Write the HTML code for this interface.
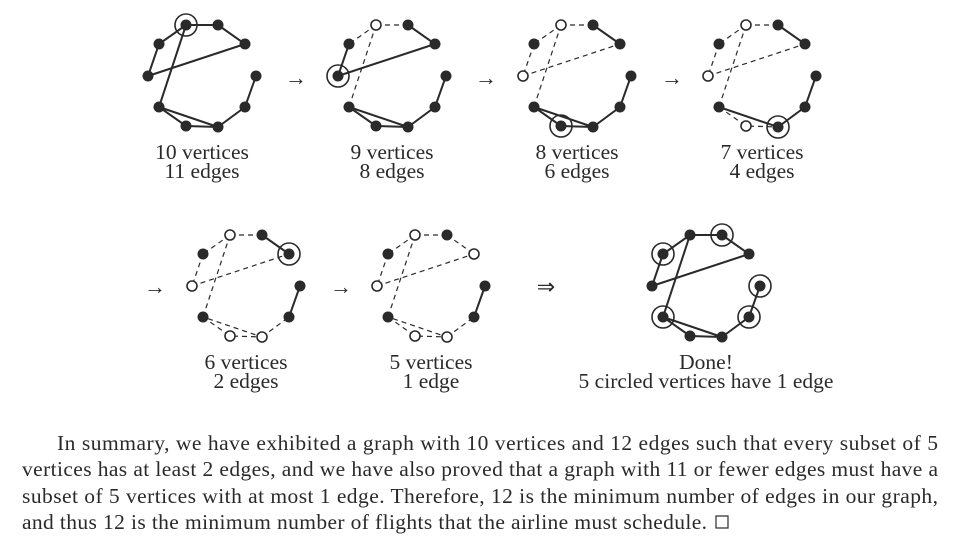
<!DOCTYPE html>
<html><head><meta charset="utf-8"><style>
html,body{margin:0;padding:0;background:#fff;}
svg{display:block}
text{font-family:"Liberation Serif",serif;fill:#2a2a2a;}
.s{stroke:#2a2a2a;stroke-width:2;fill:none}
.d{stroke:#2a2a2a;stroke-width:1.2;fill:none;stroke-dasharray:5,4}
.f{fill:#2a2a2a}
.o{fill:#fff;stroke:#2a2a2a;stroke-width:1.6}
.c{fill:none;stroke:#2a2a2a;stroke-width:1.6}
</style></head><body>
<svg width="960" height="542" viewBox="0 0 960 542">

<!-- Graph 1 -->
<g>
<g class="s">
<polyline points="218,25 186,25 159,44 148,76 245,44 218,25"/>
<polyline points="186,25 159,107 186,126 218,127 159,107"/>
<polyline points="218,127 245,107 256,76"/>
</g>
<g class="f"><circle cx="186" cy="25" r="5.5"/><circle cx="218" cy="25" r="5.5"/><circle cx="245" cy="44" r="5.5"/><circle cx="256" cy="76" r="5.5"/><circle cx="245" cy="107" r="5.5"/><circle cx="218" cy="127" r="5.5"/><circle cx="186" cy="126" r="5.5"/><circle cx="159" cy="107" r="5.5"/><circle cx="148" cy="76" r="5.5"/><circle cx="159" cy="44" r="5.5"/></g>
<circle class="c" cx="186" cy="25" r="11"/>
</g>

<!-- Graph 2 -->
<g transform="translate(190,0)">
<g class="d"><line x1="186" y1="25" x2="218" y2="25"/><line x1="186" y1="25" x2="159" y2="44"/><line x1="186" y1="25" x2="159" y2="107"/></g>
<g class="s">
<polyline points="218,25 245,44 148,76 159,44"/>
<polyline points="218,127 186,126 159,107 218,127 245,107 256,76"/>
</g>
<g class="f"><circle cx="218" cy="25" r="5.5"/><circle cx="245" cy="44" r="5.5"/><circle cx="256" cy="76" r="5.5"/><circle cx="245" cy="107" r="5.5"/><circle cx="218" cy="127" r="5.5"/><circle cx="186" cy="126" r="5.5"/><circle cx="159" cy="107" r="5.5"/><circle cx="148" cy="76" r="5.5"/><circle cx="159" cy="44" r="5.5"/></g>
<circle class="o" cx="186" cy="25" r="5"/>
<circle class="c" cx="148" cy="76" r="11"/>
</g>

<!-- Graph 3 -->
<g transform="translate(375,0)">
<g class="d"><line x1="186" y1="25" x2="218" y2="25"/><line x1="186" y1="25" x2="159" y2="44"/><line x1="186" y1="25" x2="159" y2="107"/><line x1="159" y1="44" x2="148" y2="76"/><line x1="148" y1="76" x2="245" y2="44"/></g>
<g class="s">
<line x1="218" y1="25" x2="245" y2="44"/>
<polyline points="218,127 186,126 159,107 218,127 245,107 256,76"/>
</g>
<g class="f"><circle cx="218" cy="25" r="5.5"/><circle cx="245" cy="44" r="5.5"/><circle cx="256" cy="76" r="5.5"/><circle cx="245" cy="107" r="5.5"/><circle cx="218" cy="127" r="5.5"/><circle cx="186" cy="126" r="5.5"/><circle cx="159" cy="107" r="5.5"/><circle cx="159" cy="44" r="5.5"/></g>
<circle class="o" cx="186" cy="25" r="5"/><circle class="o" cx="148" cy="76" r="5"/>
<circle class="c" cx="186" cy="126" r="11"/>
</g>

<!-- Graph 4 -->
<g transform="translate(560,0)">
<g class="d"><line x1="186" y1="25" x2="218" y2="25"/><line x1="186" y1="25" x2="159" y2="44"/><line x1="186" y1="25" x2="159" y2="107"/><line x1="159" y1="44" x2="148" y2="76"/><line x1="148" y1="76" x2="245" y2="44"/><polyline points="159,107 186,126 218,127"/></g>
<g class="s">
<line x1="218" y1="25" x2="245" y2="44"/>
<polyline points="159,107 218,127 245,107 256,76"/>
</g>
<g class="f"><circle cx="218" cy="25" r="5.5"/><circle cx="245" cy="44" r="5.5"/><circle cx="256" cy="76" r="5.5"/><circle cx="245" cy="107" r="5.5"/><circle cx="218" cy="127" r="5.5"/><circle cx="159" cy="107" r="5.5"/><circle cx="159" cy="44" r="5.5"/></g>
<circle class="o" cx="186" cy="25" r="5"/><circle class="o" cx="148" cy="76" r="5"/><circle class="o" cx="186" cy="126" r="5"/>
<circle class="c" cx="218" cy="127" r="11"/>
</g>

<!-- Graph 5 -->
<g transform="translate(44,210)">
<g class="d"><line x1="186" y1="25" x2="218" y2="25"/><line x1="186" y1="25" x2="159" y2="44"/><line x1="186" y1="25" x2="159" y2="107"/><line x1="159" y1="44" x2="148" y2="76"/><line x1="148" y1="76" x2="245" y2="44"/><polyline points="159,107 186,126 218,127 159,107"/><line x1="218" y1="127" x2="245" y2="107"/></g>
<g class="s">
<line x1="218" y1="25" x2="245" y2="44"/>
<line x1="245" y1="107" x2="256" y2="76"/>
</g>
<g class="f"><circle cx="218" cy="25" r="5.5"/><circle cx="245" cy="44" r="5.5"/><circle cx="256" cy="76" r="5.5"/><circle cx="245" cy="107" r="5.5"/><circle cx="159" cy="107" r="5.5"/><circle cx="159" cy="44" r="5.5"/></g>
<circle class="o" cx="186" cy="25" r="5"/><circle class="o" cx="148" cy="76" r="5"/><circle class="o" cx="186" cy="126" r="5"/><circle class="o" cx="218" cy="127" r="5"/>
<circle class="c" cx="245" cy="44" r="11"/>
</g>

<!-- Graph 6 -->
<g transform="translate(229,210)">
<g class="d"><line x1="186" y1="25" x2="218" y2="25"/><line x1="218" y1="25" x2="245" y2="44"/><line x1="186" y1="25" x2="159" y2="44"/><line x1="186" y1="25" x2="159" y2="107"/><line x1="159" y1="44" x2="148" y2="76"/><line x1="148" y1="76" x2="245" y2="44"/><polyline points="159,107 186,126 218,127 159,107"/><line x1="218" y1="127" x2="245" y2="107"/></g>
<g class="s"><line x1="245" y1="107" x2="256" y2="76"/></g>
<g class="f"><circle cx="218" cy="25" r="5.5"/><circle cx="256" cy="76" r="5.5"/><circle cx="245" cy="107" r="5.5"/><circle cx="159" cy="107" r="5.5"/><circle cx="159" cy="44" r="5.5"/></g>
<circle class="o" cx="186" cy="25" r="5"/><circle class="o" cx="148" cy="76" r="5"/><circle class="o" cx="186" cy="126" r="5"/><circle class="o" cx="218" cy="127" r="5"/><circle class="o" cx="245" cy="44" r="5"/>
</g>

<!-- Graph 7 -->
<g transform="translate(504,210)">
<g class="s">
<polyline points="218,25 186,25 159,44 148,76 245,44 218,25"/>
<polyline points="186,25 159,107 186,126 218,127 159,107"/>
<polyline points="218,127 245,107 256,76"/>
</g>
<g class="f"><circle cx="186" cy="25" r="5.5"/><circle cx="218" cy="25" r="5.5"/><circle cx="245" cy="44" r="5.5"/><circle cx="256" cy="76" r="5.5"/><circle cx="245" cy="107" r="5.5"/><circle cx="218" cy="127" r="5.5"/><circle cx="186" cy="126" r="5.5"/><circle cx="159" cy="107" r="5.5"/><circle cx="148" cy="76" r="5.5"/><circle cx="159" cy="44" r="5.5"/></g>
<circle class="c" cx="218" cy="25" r="11"/><circle class="c" cx="159" cy="44" r="11"/><circle class="c" cx="159" cy="107" r="11"/><circle class="c" cx="245" cy="107" r="11"/><circle class="c" cx="256" cy="76" r="11"/>
</g>

<!-- arrows -->
<g font-size="22">
<text x="296" y="85" text-anchor="middle">→</text>
<text x="486" y="85" text-anchor="middle">→</text>
<text x="672" y="85" text-anchor="middle">→</text>
<text x="155" y="294" text-anchor="middle">→</text>
<text x="341" y="294" text-anchor="middle">→</text>
<text x="546" y="294" text-anchor="middle">⇒</text>
</g>

<!-- labels -->
<g font-size="21.5" text-anchor="middle">
<text x="202" y="159">10 vertices</text><text x="202" y="178">11 edges</text>
<text x="392" y="159">9 vertices</text><text x="392" y="178">8 edges</text>
<text x="577" y="159">8 vertices</text><text x="577" y="178">6 edges</text>
<text x="762" y="159">7 vertices</text><text x="762" y="178">4 edges</text>
<text x="246" y="369">6 vertices</text><text x="246" y="388">2 edges</text>
<text x="431" y="369">5 vertices</text><text x="431" y="388">1 edge</text>
<text x="706" y="369">Done!</text><text x="706" y="388">5 circled vertices have 1 edge</text>
</g>

<!-- paragraph -->
<g font-size="21.5">
<text x="57" y="450" textLength="881" lengthAdjust="spacing">In summary, we have exhibited a graph with 10 vertices and 12 edges such that every subset of 5</text>
<text x="22" y="476" textLength="916" lengthAdjust="spacing">vertices has at least 2 edges, and we have also proved that a graph with 11 or fewer edges must have a</text>
<text x="22" y="503" textLength="916" lengthAdjust="spacing">subset of 5 vertices with at most 1 edge.  Therefore, 12 is the minimum number of edges in our graph,</text>
<text x="22" y="529" textLength="685" lengthAdjust="spacing">and thus 12 is the minimum number of flights that the airline must schedule.</text>
</g>
<rect x="716" y="516" width="12" height="12" fill="none" stroke="#2a2a2a" stroke-width="1.2"/>
</svg>
</body></html>
